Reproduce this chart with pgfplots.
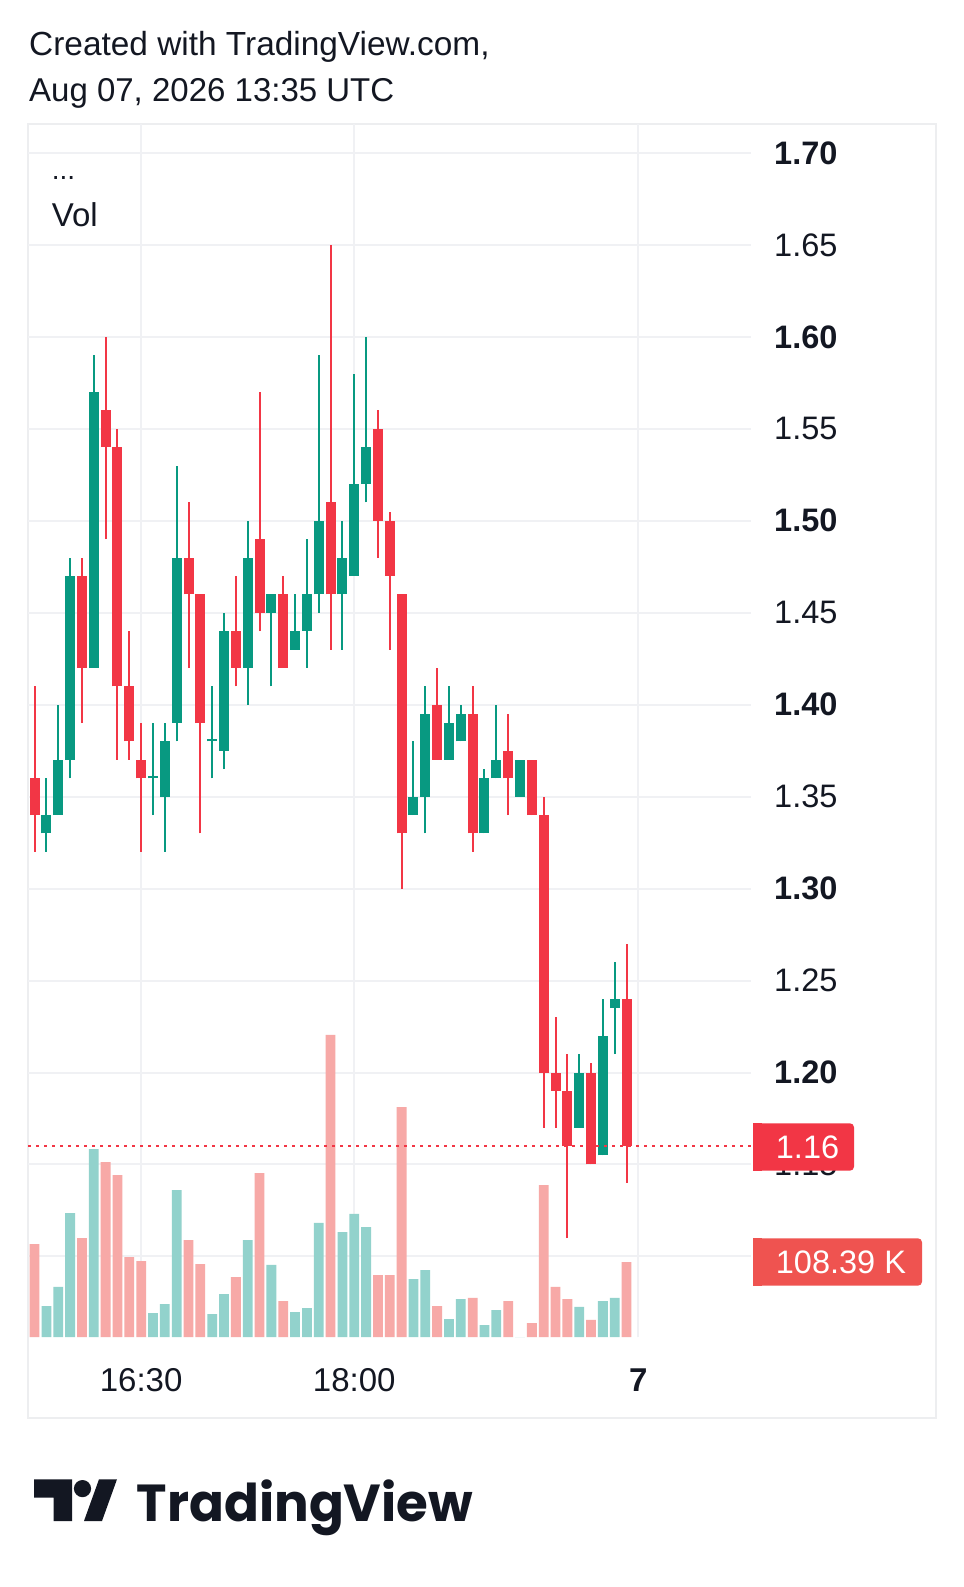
\documentclass[border=0pt]{standalone}
\usepackage{pgfplots}
\pgfplotsset{compat=1.18}
\usepackage{pgfplotstable}
\usepackage{fontspec}
\setmainfont{Liberation Sans}
\newfontfamily\logofont{Poppins}
\definecolor{upc}{HTML}{089981}
\definecolor{dnc}{HTML}{F23645}
\definecolor{upv}{HTML}{92D2CC}
\definecolor{dnv}{HTML}{F7A9A7}
\definecolor{volbox}{HTML}{EF5350}
\definecolor{gridc}{HTML}{F0F1F4}
\definecolor{framec}{HTML}{EDEEF0}
\definecolor{txt}{HTML}{131722}
\newcommand\fs[1]{\fontsize{#1}{#1}\selectfont}

% green (up) candles: index, open, high, low, close, volume (K)
\pgfplotstableread{
i O H L C V
1 1.33 1.36 1.32 1.34 44.8
2 1.34 1.40 1.34 1.37 72.3
3 1.37 1.48 1.36 1.47 179.2
5 1.42 1.59 1.42 1.57 271.7
10 1.36 1.39 1.34 1.36 34.7
11 1.35 1.39 1.32 1.38 47.7
12 1.39 1.53 1.38 1.48 212.4
15 1.38 1.41 1.36 1.38 33.2
16 1.375 1.45 1.365 1.44 62.1
18 1.42 1.50 1.40 1.48 140.2
20 1.45 1.46 1.41 1.46 104.1
22 1.43 1.46 1.43 1.44 36.1
23 1.44 1.49 1.42 1.46 41.9
24 1.46 1.59 1.45 1.50 164.8
26 1.46 1.50 1.43 1.48 151.7
27 1.47 1.58 1.47 1.52 177.8
28 1.52 1.60 1.51 1.54 159.0
32 1.34 1.38 1.34 1.35 83.8
33 1.35 1.41 1.33 1.395 96.8
35 1.37 1.41 1.37 1.39 26.0
36 1.38 1.40 1.38 1.395 54.9
38 1.33 1.365 1.33 1.36 17.3
39 1.36 1.40 1.36 1.37 39.0
41 1.35 1.37 1.35 1.37 0
46 1.17 1.21 1.17 1.20 43.4
48 1.155 1.24 1.155 1.22 52.0
49 1.235 1.26 1.21 1.24 56.4
}\upT

% red (down) candles
\pgfplotstableread{
i O H L C V
0 1.36 1.41 1.32 1.34 134.4
4 1.47 1.48 1.39 1.42 143.1
6 1.56 1.60 1.49 1.54 252.9
7 1.54 1.55 1.37 1.41 234.1
8 1.41 1.44 1.37 1.38 115.6
9 1.37 1.39 1.32 1.36 109.8
13 1.48 1.51 1.42 1.46 140.2
14 1.46 1.46 1.33 1.39 105.5
17 1.44 1.47 1.41 1.42 86.7
19 1.49 1.57 1.44 1.45 237.0
21 1.46 1.47 1.42 1.42 52.0
25 1.51 1.65 1.43 1.46 436.5
29 1.55 1.56 1.48 1.50 89.6
30 1.50 1.505 1.43 1.47 89.6
31 1.46 1.46 1.30 1.33 332.4
34 1.40 1.42 1.37 1.37 44.8
37 1.395 1.41 1.32 1.33 56.4
40 1.375 1.395 1.34 1.36 52.0
42 1.37 1.37 1.34 1.34 20.2
43 1.34 1.35 1.17 1.20 219.7
44 1.20 1.23 1.17 1.19 72.3
45 1.19 1.21 1.11 1.16 54.9
47 1.20 1.205 1.15 1.15 24.6
50 1.24 1.27 1.14 1.16 108.39
}\dnT

\pgfplotsset{
  pane/.style={at={(28bp,-1337bp)}, anchor=south west, scale only axis,
    width=723bp, height=1213bp, xmin=-0.557, xmax=60.51},
  wick/.style={draw=none, mark=none, forget plot,
    error bars/.cd, y dir=plus, y explicit, error mark=none,
    error bar style={draw=#1, line width=2bp}},
  body/.style={draw=none, mark=none, forget plot,
    error bars/.cd, y dir=plus, y explicit, error mark=none,
    error bar style={draw=#1, line width=10bp}},
}

\begin{document}
\begin{tikzpicture}
\useasboundingbox (0,0) rectangle (964bp,-1587bp);
\fill[white] (0,0) rectangle (964bp,-1587bp);
\begin{scope}[x=1bp,y=-1bp]
\draw[framec, line width=2bp] (28,124) rectangle (936,1418);
\end{scope}

% grid and scales
\begin{axis}[pane, ymin=1.05617, ymax=1.71577,
  axis line style={draw=none}, major tick length=0pt,
  xmajorgrids, ymajorgrids, grid style={gridc, line width=2bp},
  xtick={9,27,51}, xticklabels={16:30,18:00,\textbf{7}},
  ytick={1.10,1.15,1.20,1.25,1.30,1.35,1.40,1.45,1.50,1.55,1.60,1.65,1.70},
  yticklabels={,1.15,\textbf{1.20},1.25,\textbf{1.30},1.35,\textbf{1.40},1.45,\textbf{1.50},1.55,\textbf{1.60},1.65,\textbf{1.70}},
  yticklabel pos=right,
  yticklabel style={anchor=west, inner sep=0pt, xshift=23bp, font=\fs{32.5bp}, text=txt},
  xticklabel style={anchor=base, inner sep=0pt, yshift=-54.7bp, font=\fs{33bp}, text=txt},
]
\end{axis}

% volume
\begin{axis}[pane, ymin=0, ymax=1753.1, hide axis]
\addplot[ybar, bar width=9.8bp, bar shift=0pt, fill=upv, draw=none] table[x=i, y=V] {\upT};
\addplot[ybar, bar width=9.8bp, bar shift=0pt, fill=dnv, draw=none] table[x=i, y=V] {\dnT};
\end{axis}

% candles
\begin{axis}[pane, ymin=1.05617, ymax=1.71577, hide axis]
\addplot[wick=upc] table[x=i, y=L, y error plus expr={\thisrow{H}-\thisrow{L}}] {\upT};
\addplot[wick=dnc] table[x=i, y=L, y error plus expr={\thisrow{H}-\thisrow{L}}] {\dnT};
\addplot[body=upc] table[x=i, y expr={min(\thisrow{O},\thisrow{C})}, y error plus expr={max(abs(\thisrow{C}-\thisrow{O}),0.0011)}] {\upT};
\addplot[body=dnc] table[x=i, y expr={min(\thisrow{O},\thisrow{C})}, y error plus expr={max(abs(\thisrow{C}-\thisrow{O}),0.0011)}] {\dnT};
\addplot[dnc, line width=2bp, dash pattern=on 2.5bp off 5.5bp, forget plot] coordinates {(-0.557,1.16) (60.51,1.16)};
\end{axis}

\begin{scope}[x=1bp,y=-1bp]
\node[anchor=base west, inner sep=0pt, text=txt, font=\fs{33.4bp}] at (29,55) {Created with TradingView.com,};
\node[anchor=base west, inner sep=0pt, text=txt, font=\fs{33bp}] at (29,101.7) {Aug 07, 2026 13:35 UTC};
\node[anchor=base west, inner sep=0pt, text=txt, font=\fs{28bp}] at (51.7,179) {...};
\node[anchor=base west, inner sep=0pt, text=txt, font=\fs{33bp}] at (51.7,226.7) {Vol};
% last price box
\fill[dnc, rounded corners=4bp] (753,1123.3) rectangle (854,1170.7);
\fill[dnc] (753,1123.3) rectangle (762,1170.7);
\node[anchor=west, inner sep=0pt, text=white, font=\fs{32.5bp}] at (775.7,1147) {1.16};
% volume box
\fill[volbox, rounded corners=4bp] (753,1238.3) rectangle (922,1285.7);
\fill[volbox] (753,1238.3) rectangle (762,1285.7);
\node[anchor=west, inner sep=0pt, text=white, font=\fs{32.5bp}] at (775.7,1262) {108.39 K};
% logo
\fill[txt] (34,1479.3) -- (72,1479.3) -- (72,1521) -- (53.5,1521) -- (53.5,1497.5) -- (34,1497.5) -- cycle;
\fill[txt] (82.5,1488.6) circle[radius=8.6];
\fill[txt] (99,1479.3) -- (117,1479.3) -- (102,1521) -- (84,1521) -- cycle;
\node[anchor=base west, inner sep=0pt, text=txt] at (136.7,1521) {\resizebox{336bp}{41.7bp}{\logofont\bfseries TradingView}};
\end{scope}
\end{tikzpicture}
\end{document}
